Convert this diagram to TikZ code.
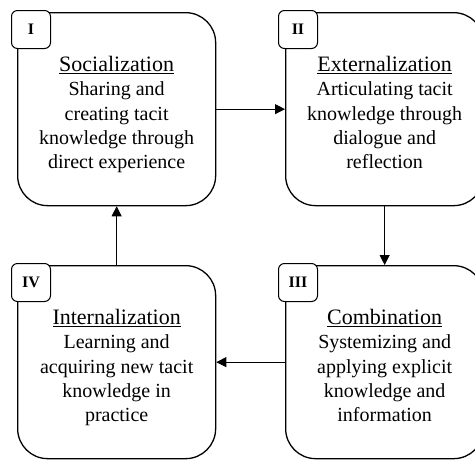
\documentclass[tikz,border=0pt]{standalone}
\usepackage{fontspec}
\setmainfont{Liberation Serif}
\usetikzlibrary{arrows.meta}
\begin{document}
\begin{tikzpicture}[x=1pt,y=-1pt,
 bigbox/.style={draw, line width=1.3pt, rounded corners=30pt, minimum width=198pt, minimum height=193pt, inner sep=0pt, anchor=north west},
 tagbox/.style={draw, fill=white, line width=1pt, rounded corners=6pt, minimum width=39pt, minimum height=38pt, font=\fontsize{16}{16}\selectfont\bfseries, anchor=north west, inner sep=0pt},
 boxtext/.style={font=\fontsize{20}{24.3}\selectfont, align=center, anchor=north, inner sep=0pt},
 conn/.style={line width=0.8pt, -{Triangle[length=10pt,width=10pt]}}]
\useasboundingbox (0,0) rectangle (475,459);
\clip (0,0) rectangle (475,459);
\node[bigbox] (s1) at (17,12) {};
\node[bigbox] (s2) at (285,12) {};
\node[bigbox] (s3) at (285,265) {};
\node[bigbox] (s4) at (17,265) {};
\node[boxtext] (t1) at ([yshift=-44pt]s1.north) {{\fontsize{22}{26}\selectfont\underline{Socialization}}\\Sharing and\\creating tacit\\knowledge through\\direct experience};
\node[boxtext] (t2) at ([yshift=-44pt]s2.north) {{\fontsize{22}{26}\selectfont\underline{Externalization}}\\Articulating tacit\\knowledge through\\dialogue and\\reflection};
\node[boxtext] (t3) at ([yshift=-44pt]s3.north) {{\fontsize{22}{26}\selectfont\underline{Combination}}\\Systemizing and\\applying explicit\\knowledge and\\information};
\node[boxtext] (t4) at ([yshift=-44pt]s4.north) {{\fontsize{22}{26}\selectfont\underline{Internalization}}\\Learning and\\acquiring new tacit\\knowledge in\\practice};
\node[tagbox] (g1) at ([shift={(-6pt,2pt)}]s1.north west) {I};
\node[tagbox] (g2) at ([shift={(-7pt,2pt)}]s2.north west) {II};
\node[tagbox] (g3) at ([shift={(-7pt,2pt)}]s3.north west) {III};
\node[tagbox] (g4) at ([shift={(-6pt,2pt)}]s4.north west) {IV};
\draw[conn] (s1.east) -- (s2.west);
\draw[conn] (s2.south) -- (s3.north);
\draw[conn] (s3.west) -- (s4.east);
\draw[conn] (s4.north) -- (s1.south);
\end{tikzpicture}
\end{document}
